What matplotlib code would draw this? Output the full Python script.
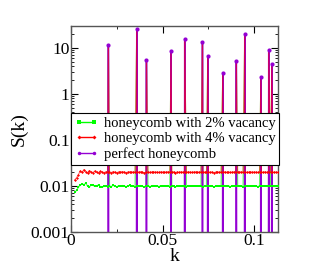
import numpy as np
import matplotlib
matplotlib.use("Agg")
import matplotlib.pyplot as plt
from matplotlib.lines import Line2D
from matplotlib.ticker import LogLocator, NullFormatter, FixedLocator

plt.rcParams['font.family'] = ['Liberation Serif', 'DejaVu Serif']

# Bragg peak positions and heights (perfect honeycomb)
peak_k = [0.0204, 0.0359, 0.0412, 0.0546, 0.0621, 0.0718, 0.0747, 0.0829,
          0.0903, 0.0949, 0.1037, 0.1080, 0.1097]
peak_S = [11.4, 26.0, 5.5, 8.7, 15.4, 13.3, 6.5, 2.9, 5.2, 20.0, 2.35, 8.9, 4.5]
peak_S_red = [11.0, 25.0, 5.3, 8.4, 15.0, 12.9, 6.3, 2.8, 5.0, 19.5, 2.3, 8.6, 4.4]
peak_S_green = [10.5, 24.0, 5.1, 8.1, 14.5, 12.5, 6.1, 2.7, 4.9, 19.0, 2.2, 8.3, 4.2]

# diffuse background, k = 0.002 ... 0.113 step 0.001
k_bg = np.round(np.linspace(0.002, 0.113, 112), 4)
S_green = [0.0072, 0.0080, 0.0093, 0.0104, 0.0110, 0.0107, 0.0114, 0.0100, 0.0094, 0.0106,
           0.0103, 0.0098, 0.0101, 0.0105, 0.0097, 0.0093, 0.0099, 0.0102, 0.0096, 0.0100,
           0.0097, 0.0103, 0.0099, 0.0095, 0.0101, 0.0098, 0.0102, 0.0100, 0.0096, 0.0099,
           0.0103, 0.0098, 0.0100, 0.0097, 0.0101, 0.0099, 0.0102, 0.0098, 0.0096, 0.0100,
           0.0101, 0.0097, 0.0099, 0.0102, 0.0098, 0.0100, 0.0097, 0.0101, 0.0099, 0.0098,
           0.0100, 0.0102, 0.0097, 0.0099, 0.0101, 0.0095, 0.0100, 0.0098, 0.0101, 0.0099,
           0.0100, 0.0097, 0.0102, 0.0099, 0.0098, 0.0100, 0.0101, 0.0098, 0.0099, 0.0102,
           0.0097, 0.0100, 0.0099, 0.0101, 0.0098, 0.0100, 0.0096, 0.0099, 0.0101, 0.0098,
           0.0100, 0.0099, 0.0102, 0.0098, 0.0100, 0.0097, 0.0099, 0.0101, 0.0098, 0.0100,
           0.0099, 0.0101, 0.0097, 0.0100, 0.0098, 0.0099, 0.0101, 0.0098, 0.0100, 0.0099,
           0.0097, 0.0100, 0.0098, 0.0099, 0.0101, 0.0098, 0.0100, 0.0099, 0.0098, 0.0100,
           0.0099, 0.0098]
S_red = [0.0135, 0.0150, 0.0175, 0.0212, 0.0196, 0.0226, 0.0204, 0.0190, 0.0216, 0.0200,
         0.0194, 0.0211, 0.0198, 0.0190, 0.0206, 0.0200, 0.0194, 0.0203, 0.0197, 0.0201,
         0.0195, 0.0204, 0.0199, 0.0193, 0.0202, 0.0198, 0.0205, 0.0200, 0.0195, 0.0199,
         0.0203, 0.0197, 0.0201, 0.0196, 0.0202, 0.0199, 0.0204, 0.0197, 0.0193, 0.0200,
         0.0202, 0.0196, 0.0199, 0.0203, 0.0197, 0.0200, 0.0196, 0.0202, 0.0199, 0.0197,
         0.0200, 0.0203, 0.0196, 0.0199, 0.0202, 0.0195, 0.0200, 0.0197, 0.0202, 0.0199,
         0.0200, 0.0196, 0.0203, 0.0199, 0.0197, 0.0200, 0.0202, 0.0197, 0.0199, 0.0203,
         0.0196, 0.0200, 0.0199, 0.0202, 0.0197, 0.0200, 0.0195, 0.0199, 0.0202, 0.0197,
         0.0200, 0.0199, 0.0203, 0.0197, 0.0200, 0.0196, 0.0199, 0.0202, 0.0197, 0.0200,
         0.0199, 0.0202, 0.0196, 0.0200, 0.0197, 0.0199, 0.0202, 0.0197, 0.0200, 0.0199,
         0.0196, 0.0200, 0.0197, 0.0199, 0.0202, 0.0197, 0.0200, 0.0199, 0.0197, 0.0200,
         0.0199, 0.0197]

FLOOR = 1e-6


def merge(kb, sb, kp, sp):
    k = np.concatenate([kb, kp])
    s = np.concatenate([sb, sp])
    o = np.argsort(k)
    return k[o], s[o]


kg, sg = merge(k_bg, np.array(S_green), np.array(peak_k), np.array(peak_S_green))
kr, sr = merge(k_bg, np.array(S_red), np.array(peak_k), np.array(peak_S_red))

# perfect honeycomb: zero between peaks
kp_line = []
sp_line = []
for kk, ss in zip(peak_k, peak_S):
    kp_line += [kk - 0.0002, kk, kk + 0.0002]
    sp_line += [FLOOR, ss, FLOOR]

fig = plt.figure(figsize=(3.32, 2.70), dpi=100)
ax = fig.add_axes([0.214, 0.141, 0.623, 0.763])

purple = '#9400d3'
green = '#00ff00'
red = '#ff0000'

ax.plot(kg, sg, '-', color=green, lw=0.9, alpha=0.6, zorder=1)
ax.plot(kp_line, sp_line, '-', color=purple, lw=1.1, zorder=2)
ax.plot(k_bg, S_green, 's', color=green, ms=1.8, mew=0, zorder=3)
ax.plot(kr, sr, '-', color=red, lw=0.8, alpha=0.6, zorder=4)
ax.plot(k_bg, S_red, 'D', color=red, ms=1.5, mew=0, zorder=4)
ax.plot(peak_k, peak_S, 'o', color=purple, ms=3.0, mew=0, zorder=5)

ax.set_yscale('log')
ax.set_ylim(0.001, 30)
ax.set_xlim(0, 0.113)
ax.set_yticks([0.001, 0.01, 0.1, 1, 10])
ax.set_yticklabels(['0.001', '0.01', '0.1', '1', '10'])
ax.yaxis.set_minor_locator(LogLocator(base=10, subs=np.arange(2, 10), numticks=20))
ax.yaxis.set_minor_formatter(NullFormatter())
ax.set_xticks([0, 0.05, 0.1])
ax.set_xticklabels(['0', '0.05', '0.1'])
ax.xaxis.set_minor_locator(FixedLocator([0.025, 0.075]))
ax.tick_params(which='both', direction='in', top=True, right=True, labelsize=12.5, pad=1)
ax.tick_params(which='major', length=5)
ax.tick_params(which='minor', length=2.5)
for sp in ax.spines.values():
    sp.set_color('#555555')
    sp.set_linewidth(1.0)

ax.set_xlabel('k', fontsize=14, labelpad=-1)
ax.set_ylabel('S(k)', fontsize=14, labelpad=2)

handles = [
    Line2D([], [], color=green, lw=1.0, marker='s', ms=2.5, mew=0),
    Line2D([], [], color=red, lw=1.0, marker='D', ms=2.0, mew=0),
    Line2D([], [], color=purple, lw=1.0, marker='o', ms=2.5, mew=0),
]
labels = ['honeycomb with 2% vacancy', 'honeycomb with 4% vacancy', 'perfect honeycomb']
leg = ax.legend(handles, labels, loc='upper left', bbox_to_anchor=(0.0, 0.578),
                fontsize=10.5, numpoints=2, handlelength=1.6, handletextpad=0.4,
                borderpad=0.25, labelspacing=0.15, borderaxespad=0.0,
                fancybox=False, framealpha=1, edgecolor='black')
leg.get_frame().set_linewidth(0.8)

fig.savefig('out.png', dpi=100)
